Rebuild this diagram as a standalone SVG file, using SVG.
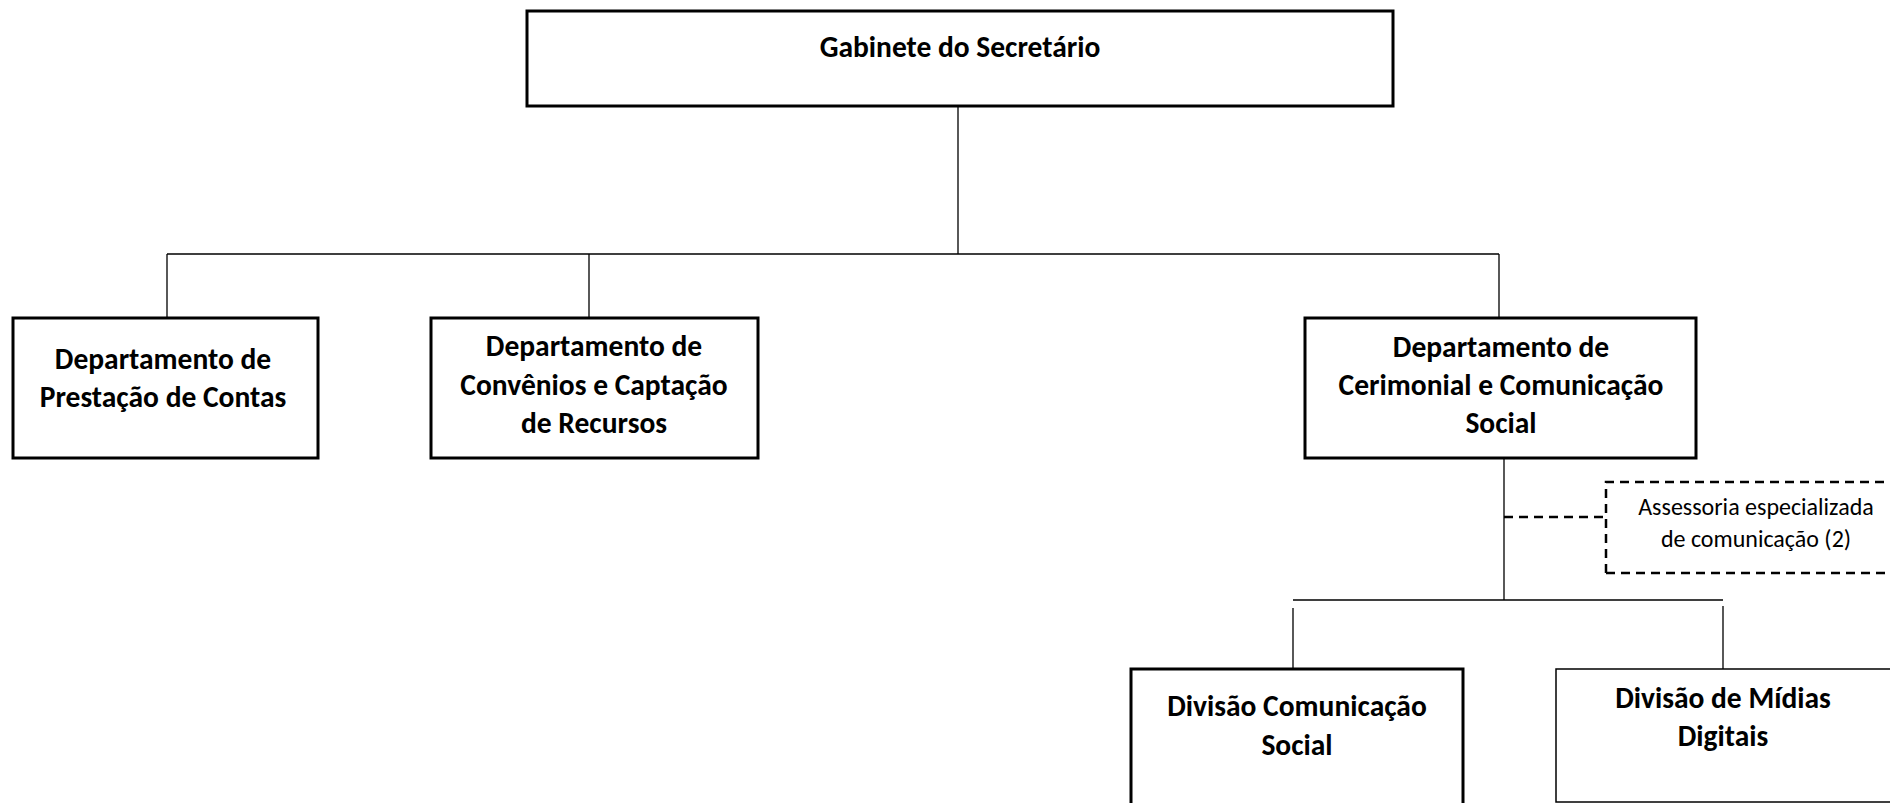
<svg xmlns="http://www.w3.org/2000/svg" width="1890" height="803" viewBox="0 0 1890 803">
<style>
.box{fill:#fff;stroke:#000;stroke-width:3}
.thin{fill:#fff;stroke:#000;stroke-width:1.5}
.dash{fill:none;stroke:#000;stroke-width:2.5;stroke-dasharray:9,6}
.ln{fill:none;stroke:#000;stroke-width:1.3}
.t{font-family:Carlito,Lato,"Liberation Sans",sans-serif;font-weight:bold;font-size:29.5px;text-anchor:middle;fill:#000}
.s{font-family:Carlito,Lato,"Liberation Sans",sans-serif;font-size:24px;text-anchor:middle;fill:#000}
</style>
<rect width="1890" height="803" fill="#fff"/>
<g id="connectors">
<path class="ln" d="M958,106V254M167,254H1499M167,254V318M589,254V318M1499,254V318"/>
<path class="ln" d="M1504,458V600M1293,600H1723M1293,608V669M1723,606V669"/>
<path class="dash" d="M1504,517H1606"/>
</g>
<g id="gabinete">
<rect class="box" x="527" y="11" width="866" height="95"/>
<text class="t" x="960" y="57">Gabinete do Secretário</text>
</g>
<g id="prestacao">
<rect class="box" x="13" y="318" width="305" height="140"/>
<text class="t" x="163" y="369">Departamento de</text>
<text class="t" x="163" y="407">Prestação de Contas</text>
</g>
<g id="convenios">
<rect class="box" x="431" y="318" width="327" height="140"/>
<text class="t" x="594" y="356">Departamento de</text>
<text class="t" x="594" y="395">Convênios e Captação</text>
<text class="t" x="594" y="433">de Recursos</text>
</g>
<g id="cerimonial">
<rect class="box" x="1305" y="318" width="391" height="140"/>
<text class="t" x="1501" y="357">Departamento de</text>
<text class="t" x="1501" y="395">Cerimonial e Comunicação</text>
<text class="t" x="1501" y="433">Social</text>
</g>
<g id="assessoria">
<path class="dash" d="M1606,573V482H1895"/>
<path class="dash" d="M1606,573H1895"/>
<text class="s" x="1756" y="515">Assessoria especializada</text>
<text class="s" x="1756" y="547">de comunicação (2)</text>
</g>
<g id="divisao-comunicacao">
<rect class="box" x="1131" y="669" width="332" height="150"/>
<text class="t" x="1297" y="716">Divisão Comunicação</text>
<text class="t" x="1297" y="755">Social</text>
</g>
<g id="divisao-midias">
<rect class="thin" x="1556" y="669" width="350" height="133"/>
<text class="t" x="1723" y="708">Divisão de Mídias</text>
<text class="t" x="1723" y="746">Digitais</text>
</g>
</svg>
